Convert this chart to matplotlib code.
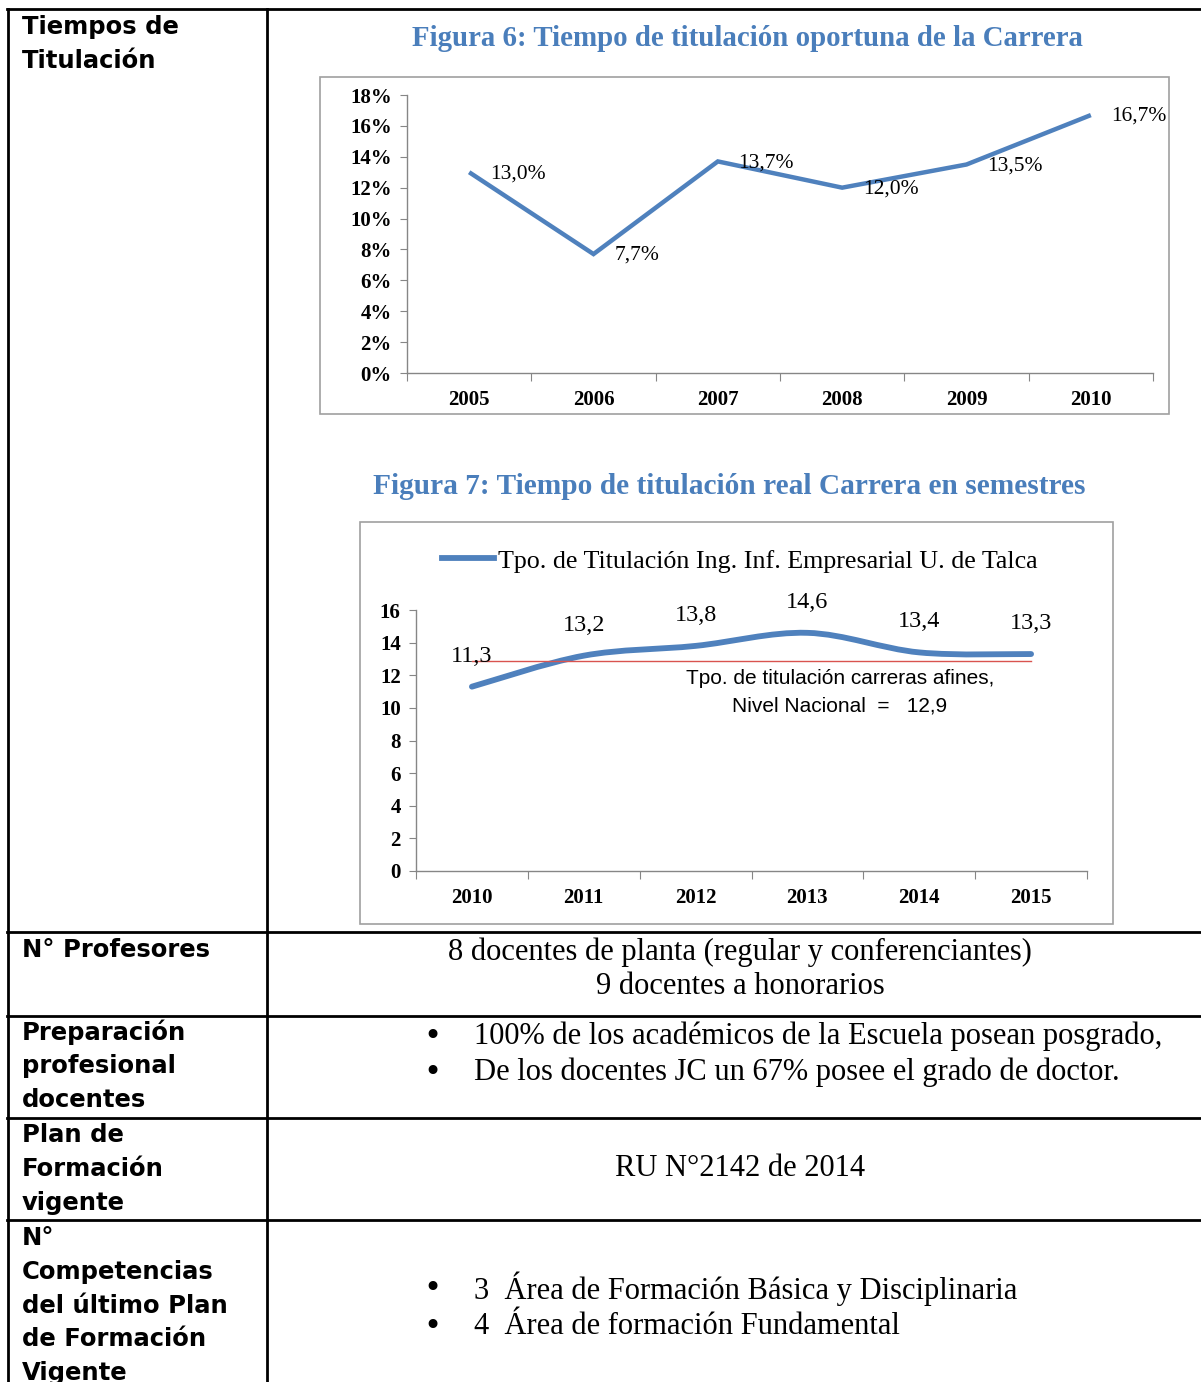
import matplotlib
matplotlib.use("Agg")
import matplotlib.pyplot as plt
from matplotlib.lines import Line2D
from matplotlib.patches import Rectangle, PathPatch
from matplotlib.path import Path
from matplotlib.ticker import FixedLocator, NullFormatter, FixedFormatter
import numpy as np

# ---------------- data ----------------
years_fig6 = ["2005", "2006", "2007", "2008", "2009", "2010"]
oportuna = [0.130, 0.077, 0.137, 0.120, 0.135, 0.167]
oportuna_labels = ["13,0%", "7,7%", "13,7%", "12,0%", "13,5%", "16,7%"]

years_fig7 = ["2010", "2011", "2012", "2013", "2014", "2015"]
semestres = [11.3, 13.2, 13.8, 14.6, 13.4, 13.3]
semestres_labels = ["11,3", "13,2", "13,8", "14,6", "13,4", "13,3"]
nivel_nacional = 12.9

row_labels = [
    "Tiempos de\nTitulación",
    "N° Profesores",
    "Preparación\nprofesional\ndocentes",
    "Plan de\nFormación\nvigente",
    "N°\nCompetencias\ndel último Plan\nde Formación\nVigente",
]

W, H = 1201, 1382
fig = plt.figure(figsize=(W / 100, H / 100), dpi=100)
fig.patch.set_facecolor("white")

BLUE = "#4F81BD"
TITLE_BLUE = "#4A7EBB"
SERIF = ["Liberation Serif", "DejaVu Serif"]
SANS = ["Liberation Sans", "DejaVu Sans"]
LABEL_SANS = ["DejaVu Sans"]


def fx(x):
    return x / W


def fy(y):
    return 1 - y / H


def rect(x0, y0, x1, y1):
    return [fx(x0), fy(y1), (x1 - x0) / W, (y1 - y0) / H]


def hline(y, x0, x1, lw=2.0, color="black"):
    fig.add_artist(Line2D([fx(x0), fx(x1)], [fy(y), fy(y)], color=color, lw=lw,
                          transform=fig.transFigure))


def vline(x, y0, y1, lw=2.0, color="black"):
    fig.add_artist(Line2D([fx(x), fx(x)], [fy(y0), fy(y1)], color=color, lw=lw,
                          transform=fig.transFigure))


# ---------------- table grid ----------------
hline(9, 7, W)
for y in [932, 1016, 1118, 1220]:
    hline(y, 7, W)
vline(8, 9, H)
vline(267, 9, H)

# left column labels
label_tops = [27, 950, 1032, 1135, 1238]
for lab, top in zip(row_labels, label_tops):
    for i, line in enumerate(lab.split("\n")):
        fig.text(fx(22), fy(top + i * 33.8), line, fontsize=17.5, fontweight="bold",
                 family=LABEL_SANS, ha="left", va="center")

# right column texts
BODY = 22
fig.text(fx(740), fy(952), "8 docentes de planta (regular y conferenciantes)",
         fontsize=BODY, family=SERIF, ha="center", va="center")
fig.text(fx(740), fy(986), "9 docentes a honorarios",
         fontsize=BODY, family=SERIF, ha="center", va="center")

bullets = [
    (1036, "100% de los académicos de la Escuela posean posgrado,"),
    (1072, "De los docentes JC un 67% posee el grado de doctor."),
    (1289, "3  Área de Formación Básica y Disciplinaria"),
    (1326, "4  Área de formación Fundamental"),
]
for y, t in bullets:
    fig.text(fx(432), fy(y), "•", fontsize=22, family=["DejaVu Sans"], ha="center", va="center")
    fig.text(fx(474), fy(y), t, fontsize=BODY, family=SERIF, ha="left", va="center")

fig.text(fx(740), fy(1169), "RU N°2142 de 2014", fontsize=BODY, family=SERIF,
         ha="center", va="center")

# ---------------- chart frames & titles ----------------
fig.add_artist(Rectangle((fx(320), fy(414)), (1169 - 320) / W, (414 - 77) / H,
                         transform=fig.transFigure, fill=False, edgecolor="#A0A0A0", lw=1.2))
fig.add_artist(Rectangle((fx(360), fy(924)), (1113 - 360) / W, (924 - 522) / H,
                         transform=fig.transFigure, fill=False, edgecolor="#A0A0A0", lw=1.2))

fig.text(fx(747), fy(39), "Figura 6: Tiempo de titulación oportuna de la Carrera",
         fontsize=20.8, fontweight="bold", family=SERIF, color=TITLE_BLUE,
         ha="center", va="center")
fig.text(fx(729), fy(486), "Figura 7: Tiempo de titulación real Carrera en semestres",
         fontsize=21.2, fontweight="bold", family=SERIF, color=TITLE_BLUE,
         ha="center", va="center")

TICK = 15


def style_axes(ax, n, yticks, ylabels, xlabels):
    for s in ["top", "right"]:
        ax.spines[s].set_visible(False)
    for s in ["left", "bottom"]:
        ax.spines[s].set_color("#868686")
        ax.spines[s].set_linewidth(1.0)
    ax.set_xlim(-0.5, n - 0.5)
    ax.xaxis.set_major_locator(FixedLocator(np.arange(-0.5, n, 1.0)))
    ax.xaxis.set_major_formatter(NullFormatter())
    ax.xaxis.set_minor_locator(FixedLocator(np.arange(n)))
    ax.xaxis.set_minor_formatter(FixedFormatter(xlabels))
    ax.tick_params(axis="x", which="major", direction="out", length=6, color="#868686")
    ax.tick_params(axis="x", which="minor", length=0, pad=12)
    ax.set_yticks(yticks)
    ax.set_yticklabels(ylabels)
    ax.tick_params(axis="y", direction="out", length=5, color="#868686", pad=6)
    for lbl in ax.get_yticklabels() + ax.get_xticklabels(minor=True):
        lbl.set_fontfamily(SERIF)
        lbl.set_fontweight("bold")
        lbl.set_fontsize(TICK)
    ax.patch.set_alpha(0)


# ---------------- Figure 6 ----------------
ax1 = fig.add_axes(rect(407, 95, 1153, 373))
x1 = np.arange(len(years_fig6))
ax1.plot(x1, oportuna, color=BLUE, lw=3.2, solid_joinstyle="miter", solid_capstyle="butt")
ax1.set_ylim(0, 0.18)
style_axes(ax1, len(years_fig6), np.arange(0, 0.181, 0.02),
           [f"{int(round(v * 100))}%" for v in np.arange(0, 0.181, 0.02)], years_fig6)
for xi, v, t in zip(x1, oportuna, oportuna_labels):
    ax1.annotate(t, (xi, v), xytext=(15, -1), textcoords="offset points",
                 fontsize=15.5, family=SERIF, ha="left", va="center")

# ---------------- Figure 7 ----------------
ax2 = fig.add_axes(rect(416, 610, 1087, 871))
x2 = np.arange(len(years_fig7), dtype=float)
ys = np.array(semestres, dtype=float)
# smoothed line (Catmull-Rom as cubic Bezier, like Excel's smoothed line)
verts = [(x2[0], ys[0])]
codes = [Path.MOVETO]
n = len(x2)
for i in range(n - 1):
    p0 = np.array([x2[max(i - 1, 0)], ys[max(i - 1, 0)]])
    p1 = np.array([x2[i], ys[i]])
    p2 = np.array([x2[i + 1], ys[i + 1]])
    p3 = np.array([x2[min(i + 2, n - 1)], ys[min(i + 2, n - 1)]])
    c1 = p1 + (p2 - p0) / 6.0
    c2 = p2 - (p3 - p1) / 6.0
    verts += [tuple(c1), tuple(c2), tuple(p2)]
    codes += [Path.CURVE4, Path.CURVE4, Path.CURVE4]
ax2.add_patch(PathPatch(Path(verts, codes), facecolor="none", edgecolor=BLUE, lw=4.2,
                        capstyle="round"))
ax2.plot([x2[0], x2[-1]], [nivel_nacional, nivel_nacional], color="#D9534F", lw=1.0)
ax2.set_ylim(0, 16)
style_axes(ax2, len(years_fig7), np.arange(0, 17, 2), [str(v) for v in range(0, 17, 2)],
           years_fig7)
for xi, v, t in zip(x2, ys, semestres_labels):
    ax2.annotate(t, (xi, v), xytext=(0, 22), textcoords="offset points",
                 fontsize=17.5, family=SERIF, ha="center", va="center")
ax2.text(3.29, 11.83, "Tpo. de titulación carreras afines,", fontsize=15, family=SANS,
         ha="center", va="center")
ax2.text(3.29, 10.12, "Nivel Nacional  =   12,9", fontsize=15, family=SANS,
         ha="center", va="center")

# legend
leg_line = Line2D([], [], color=BLUE, lw=4.2)
fig.legend([leg_line], ["Tpo. de Titulación Ing. Inf. Empresarial U. de Talca"],
           loc="center", bbox_to_anchor=(fx(740), fy(561)), frameon=False,
           prop={"family": SERIF, "size": 18.7}, handlelength=2.0, handletextpad=0.15)

fig.savefig("out.png", dpi=100, facecolor="white")
